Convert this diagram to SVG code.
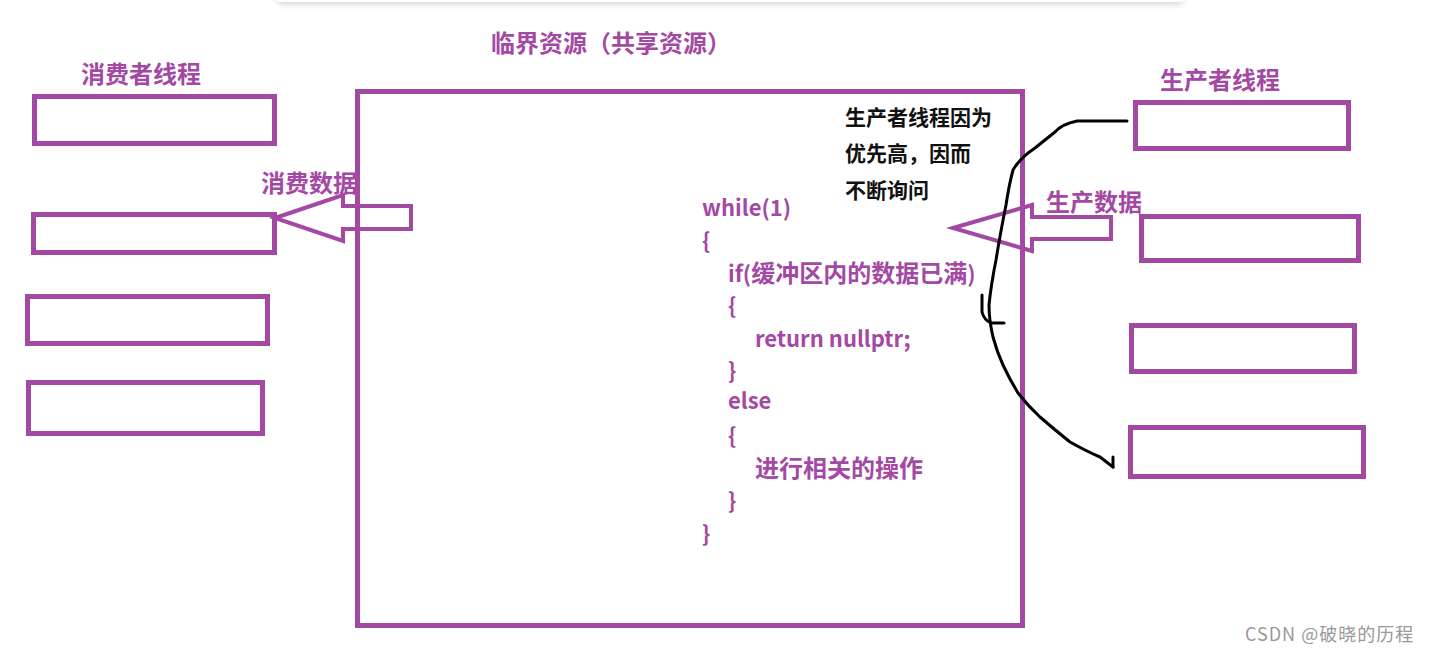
<svg xmlns="http://www.w3.org/2000/svg" width="1432" height="654" viewBox="0 0 1432 654">
<style>
.box{fill:none;stroke:#A349A4;stroke-width:5}
.arr{fill:none;stroke:#A349A4;stroke-width:4;stroke-linejoin:miter}
.lbl{font-family:"Noto Sans CJK SC","Noto Sans",sans-serif;font-weight:bold;font-size:24px;fill:#A349A4}
.code{font-family:"Noto Sans CJK SC","Noto Sans",sans-serif;font-weight:bold;font-size:22px;fill:#A349A4}
.cjk{font-size:24px}
.note{font-family:"Noto Sans CJK SC","Noto Sans",sans-serif;font-weight:bold;font-size:21px;fill:#111}
.ink{fill:none;stroke:#000;stroke-width:3;stroke-linecap:round;stroke-linejoin:round}
.wm{font-family:"Noto Sans CJK SC","Noto Sans",sans-serif;font-size:18px;letter-spacing:1px;fill:#999}
</style>
<defs>
<filter id="sh" x="-5%" y="-50%" width="110%" height="200%">
<feGaussianBlur stdDeviation="3"/>
</filter>
</defs>
<rect width="1432" height="654" fill="#fff"/>
<g id="topcard">
<rect x="276" y="-20" width="908" height="24" rx="6" fill="#000" opacity="0.18" filter="url(#sh)"/>
<rect x="274" y="-20" width="912" height="22" rx="6" fill="#fff"/>
</g>
<g id="critical-resource">
<rect class="box" x="357.5" y="91.5" width="665" height="534"/>
<text class="lbl" x="491" y="51.5">临界资源（共享资源）</text>
</g>
<g id="consumer-threads">
<text class="lbl" x="81" y="83">消费者线程</text>
<rect id="c1" class="box" x="34.5" y="96.5" width="240" height="47"/>
<rect id="c2" class="box" x="33.5" y="214.5" width="241" height="38"/>
<rect id="c3" class="box" x="27.5" y="296.5" width="240" height="47"/>
<rect id="c4" class="box" x="28.5" y="382.5" width="234" height="51"/>
</g>
<g id="producer-threads">
<text class="lbl" x="1160" y="88.5">生产者线程</text>
<rect id="p1" class="box" x="1135.5" y="102.5" width="213" height="46"/>
<rect id="p2" class="box" x="1141.5" y="216.5" width="217" height="44"/>
<rect id="p3" class="box" x="1131.5" y="325.5" width="223" height="46"/>
<rect id="p4" class="box" x="1130.5" y="427.5" width="233" height="49"/>
</g>
<g id="note">
<text class="note" x="845" y="124.5">生产者线程因为</text>
<text class="note" x="845" y="160.5">优先高，因而</text>
<text class="note" x="845" y="197.5">不断询问</text>
</g>
<g id="code">
<text class="code" x="702" y="216">while(1)</text>
<text class="code" x="702" y="248.5">{</text>
<text class="code" x="728" y="281.5">if(<tspan class="cjk">缓冲区内的数据已满</tspan>)</text>
<text class="code" x="728" y="314">{</text>
<text class="code" x="755" y="346.5">return nullptr;</text>
<text class="code" x="728" y="379">}</text>
<text class="code" x="728" y="408.5">else</text>
<text class="code" x="728" y="444">{</text>
<text class="code cjk" x="755" y="476.5">进行相关的操作</text>
<text class="code" x="728" y="509">}</text>
<text class="code" x="702" y="541.5">}</text>
</g>
<g id="connectors">
<g id="consume-arrow">
<path class="arr" d="M275 218 L343 195 L343 206 L411 206 L411 229 L343 229 L343 241 Z"/>
<text class="lbl" x="261" y="191.5">消费数据</text>
</g>
<g id="produce-arrow">
<path class="arr" d="M953 228 L1032 205 L1032 217 L1111 217 L1111 239 L1032 239 L1032 251 Z"/>
<text class="lbl" x="1046" y="210.5">生产数据</text>
</g>
<g id="polling-curve">
<path class="ink" d="M1127 121 L1077 121 Q1062 124 1055 132 Q1045 140 1035 148 Q1020 158 1013 170 Q1009 185 1006 205 Q1000 235 996 260 Q991 285 989 305 Q989 320 993 337 Q997 352 1003 365 Q1010 380 1018 393 Q1028 406 1040 417 Q1055 430 1070 442 Q1088 452 1100 457 L1113 467"/>
<path class="ink" d="M982 295 L982 312 Q984 320 991 323 L1004 323"/>
<path class="ink" d="M1113 457 L1113 467"/>
</g>
</g>
<text class="wm" x="1245" y="641">CSDN @破晓的历程</text>
</svg>
